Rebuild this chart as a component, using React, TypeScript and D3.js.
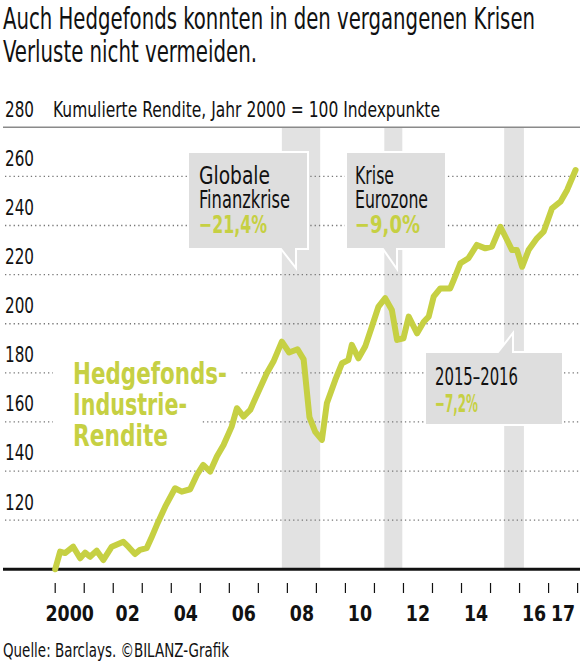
import * as d3 from 'd3';

// Barclays hedge fund index, year 2000 = 100
const years = [
  2000.0, 2000.17, 2000.34, 2000.62, 2000.86, 2001.03, 2001.2, 2001.43, 2001.66, 2001.95,
  2002.35, 2002.52, 2002.75, 2002.92, 2003.15, 2003.33, 2003.5, 2003.79, 2004.13, 2004.36,
  2004.65, 2004.88, 2005.1, 2005.34, 2005.57, 2005.8, 2006.08, 2006.26, 2006.49, 2006.72,
  2007.0, 2007.29, 2007.52, 2007.81, 2008.06, 2008.35, 2008.56, 2008.76, 2008.96, 2009.19,
  2009.36, 2009.65, 2009.88, 2010.1, 2010.22, 2010.45, 2010.68, 2010.91, 2011.14, 2011.37,
  2011.6, 2011.78, 2012.0, 2012.18, 2012.47, 2012.7, 2012.87, 2013.04, 2013.27, 2013.61,
  2013.73, 2013.96, 2014.24, 2014.53, 2014.82, 2015.05, 2015.34, 2015.57, 2015.74, 2015.91,
  2016.09, 2016.31, 2016.6, 2016.83, 2017.12, 2017.41, 2017.64, 2017.93,
];
const values = [
  100, 107.2, 106.6, 109.2, 104.5, 106.8, 105.1, 107.6, 103.8, 109.2,
  111.2, 109.2, 106.2, 107.9, 108.6, 113.3, 118.0, 125.5, 133.0, 131.6,
  132.6, 138.4, 142.5, 139.8, 145.9, 150.6, 158.1, 165.6, 162.2, 164.9,
  172.3, 179.8, 184.6, 192.7, 188.3, 189.6, 185.5, 162.0, 156.0, 152.7,
  167.6, 177.1, 183.9, 185.2, 191.4, 185.9, 190.7, 198.8, 207.0, 210.4,
  205.6, 193.4, 194.1, 202.9, 196.1, 200.8, 202.9, 211.0, 214.4, 214.4,
  217.8, 224.6, 226.7, 232.1, 230.7, 231.4, 239.5, 234.1, 230.0, 230.0,
  223.2, 230.0, 234.8, 237.5, 247.0, 249.7, 254.5, 262.6,
];

const yTicks = [120, 140, 160, 180, 200, 220, 240, 260];
const xLabels = ['2000', '02', '04', '06', '08', '10', '12', '14', '16', '17'];
const xLabelYears = [2000, 2002, 2004, 2006, 2008, 2010, 2012, 2014, 2016, 2017];
const crisisStart = [2007.81, 2011.34, 2015.47];
const crisisEnd = [2009.13, 2011.96, 2016.15];

const GREEN = '#c6d043';
const FONT = '"Liberation Sans Narrow", "DejaVu Sans Condensed", sans-serif';

export default function App() {
  const width = 585;
  const height = 666;

  const x = d3.scaleLinear().domain([2000, 2018]).range([55.2, 577.6]);
  const y = d3.scaleLinear().domain([100, 280]).range([569.3, 127.3]);

  const pts = years.map((t, i) => [t, values[i]] as [number, number]);
  const line = d3
    .line<[number, number]>()
    .x((d) => x(d[0]))
    .y((d) => y(d[1]));

  const yearTicks = d3.range(2000, 2019);

  // label lines for the series name
  const seriesLabel = [
    { text: 'Hedgefonds-', base: 384, w: 154 },
    { text: 'Industrie-', base: 414.5, w: 114 },
    { text: 'Rendite', base: 446, w: 95 },
  ];

  return (
    <svg
      width={width}
      height={height}
      style={{ position: 'absolute', left: 0, top: 0, background: '#fff' }}
      fontFamily={FONT}
    >
      {/* title */}
      <text x={3} y={28.5} fontSize={30} fill="#111" textLength={532} lengthAdjust="spacingAndGlyphs">
        Auch Hedgefonds konnten in den vergangenen Krisen
      </text>
      <text x={3} y={62} fontSize={30} fill="#111" textLength={254} lengthAdjust="spacingAndGlyphs">
        Verluste nicht vermeiden.
      </text>

      {/* crisis bands */}
      {crisisStart.map((s, i) => (
        <rect key={i} x={x(s)} y={y(280)} width={x(crisisEnd[i]) - x(s)} height={y(100) - y(280)} fill="#e2e2e2" />
      ))}

      {/* top rule + axis title */}
      <line x1={3} x2={580} y1={y(280)} y2={y(280)} stroke="#8a8a8a" strokeWidth={1.6} />
      <text x={5} y={y(280) - 10.6} fontSize={20.5} fill="#111" textLength={29} lengthAdjust="spacingAndGlyphs">
        280
      </text>
      <text x={53} y={y(280) - 10.6} fontSize={20.5} fill="#111" textLength={387} lengthAdjust="spacingAndGlyphs">
        Kumulierte Rendite, Jahr 2000 = 100 Indexpunkte
      </text>

      {/* dotted grid + y labels */}
      {yTicks.map((v) => (
        <g key={v}>
          <line
            x1={5}
            x2={580}
            y1={y(v)}
            y2={y(v)}
            stroke="#777"
            strokeWidth={1.3}
            strokeDasharray="1.3 3"
          />
          <text x={5} y={y(v) - 10.6} fontSize={20.5} fill="#111" textLength={29} lengthAdjust="spacingAndGlyphs">
            {v}
          </text>
        </g>
      ))}

      {/* series label with white knockout */}
      {seriesLabel.map((l) => (
        <rect key={'k' + l.text} x={53} y={l.base - 26} width={l.w + 33} height={35} fill="#fff" />
      ))}
      {seriesLabel.map((l) => (
        <text
          key={l.text}
          x={73}
          y={l.base}
          fontSize={30}
          fontWeight="bold"
          fill={GREEN}
          textLength={l.w}
          lengthAdjust="spacingAndGlyphs"
        >
          {l.text}
        </text>
      ))}

      {/* baseline */}
      <line x1={3} x2={580} y1={y(100)} y2={y(100)} stroke="#111" strokeWidth={3} />

      {/* series line */}
      <path
        d={line(pts) || ''}
        fill="none"
        stroke={GREEN}
        strokeWidth={6}
        strokeLinejoin="round"
        strokeLinecap="round"
      />

      {/* callouts */}
      <path d="M188,152 H308 V249 H296 V268 L281,249 H188 Z" fill="#dedede" stroke="#fff" strokeWidth={2} />
      <text x={199} y={183.5} fontSize={25} fill="#111" textLength={71} lengthAdjust="spacingAndGlyphs">
        Globale
      </text>
      <text x={199} y={207.5} fontSize={25} fill="#111" textLength={91} lengthAdjust="spacingAndGlyphs">
        Finanzkrise
      </text>
      <text x={199} y={232.5} fontSize={25} fontWeight="bold" fill={GREEN} textLength={68} lengthAdjust="spacingAndGlyphs">
        −21,4%
      </text>

      <path d="M346,152 H446 V249 H397 V269 L383,249 H346 Z" fill="#dedede" stroke="#fff" strokeWidth={2} />
      <text x={355} y={183.5} fontSize={25} fill="#111" textLength={39} lengthAdjust="spacingAndGlyphs">
        Krise
      </text>
      <text x={355} y={207.5} fontSize={25} fill="#111" textLength={73} lengthAdjust="spacingAndGlyphs">
        Eurozone
      </text>
      <text x={355} y={232.5} fontSize={25} fontWeight="bold" fill={GREEN} textLength={65} lengthAdjust="spacingAndGlyphs">
        −9,0%
      </text>

      <path d="M425,352 H498 L513,333 V352 H563 V425 H425 Z" fill="#dedede" stroke="#fff" strokeWidth={2} />
      <text x={435} y={385} fontSize={25} fill="#111" textLength={83} lengthAdjust="spacingAndGlyphs">
        2015–2016
      </text>
      <text x={435} y={411.5} fontSize={25} fontWeight="bold" fill={GREEN} textLength={43} lengthAdjust="spacingAndGlyphs">
        −7,2%
      </text>

      {/* x ticks and labels */}
      {yearTicks.map((t) => (
        <line key={t} x1={x(t)} x2={x(t)} y1={583} y2={593} stroke="#111" strokeWidth={1.2} />
      ))}
      {xLabels.map((lab, i) => (
        <text
          key={lab}
          x={x(xLabelYears[i] + 0.5)}
          y={621}
          fontSize={22}
          fontWeight="bold"
          fill="#111"
          textAnchor="middle"
          transform={`translate(${x(xLabelYears[i] + 0.5)},0) scale(0.88,1) translate(${-x(xLabelYears[i] + 0.5)},0)`}
        >
          {lab}
        </text>
      ))}

      {/* source */}
      <text x={3} y={657} fontSize={20} fill="#111" textLength={226} lengthAdjust="spacingAndGlyphs">
        Quelle: Barclays. ©BILANZ-Grafik
      </text>
    </svg>
  );
}
